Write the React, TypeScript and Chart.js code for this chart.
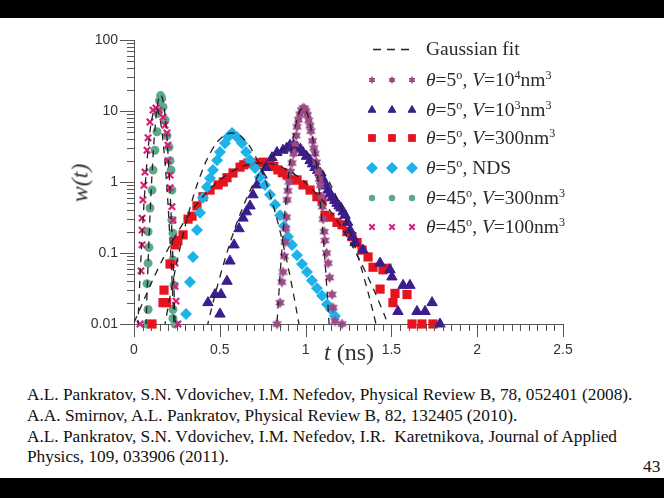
import React, { useEffect, useRef } from 'react';
import { Chart, registerables } from 'chart.js';
import { drawPoint } from 'chart.js/helpers';

Chart.register(...registerables);

// ---------- data (t in ns, w(t)) ----------
const starT = [0.833,0.851,0.862,0.868,0.876,0.880,0.885,0.888,0.892,0.897,0.903,0.912,0.921,0.930,0.938,0.945,0.950,0.958,0.967,0.976,0.985,0.994,1.002,1.010,1.018,1.025,1.031,1.040,1.048,1.055,1.063,1.072,1.080,1.086,1.092,1.098,1.102,1.108,1.113,1.122,1.131,1.140,1.154,1.160,1.171,1.212];
const starW = [0.01,0.02,0.039,0.054,0.09,0.143,0.22,0.32,0.56,0.75,1.0,1.4,1.85,2.5,3.3,4.5,6.0,7.5,9.0,10.3,11,10.8,10.0,8.8,7.4,6.2,5.2,3.8,3.0,2.5,1.9,1.4,1.1,0.9,0.62,0.45,0.3,0.2,0.15,0.1,0.072,0.045,0.026,0.017,0.011,0.01];

const triT = [0.431,0.472,0.501,0.507,0.542,0.559,0.583,0.612,0.635,0.655,0.676,0.693,0.717,0.746,0.769,0.804,0.833,0.868,0.890,0.909,0.930,0.950,0.970,0.985,1.005,1.026,1.040,1.055,1.070,1.084,1.097,1.107,1.120,1.131,1.143,1.154,1.170,1.183,1.195,1.206,1.218,1.230,1.245,1.259,1.275,1.288,1.334,1.434,1.492,1.503,1.538,1.568,1.608,1.649,1.696,1.737,1.783];
const triW = [0.02,0.026,0.0138,0.026,0.04,0.077,0.13,0.22,0.31,0.38,0.46,0.66,0.91,1.25,1.6,2.2,2.6,2.8,3.0,3.3,3.3,3.1,2.9,2.6,2.3,2.0,1.8,1.6,1.45,1.34,1.15,1.0,0.88,0.77,0.68,0.6,0.55,0.5,0.46,0.43,0.38,0.34,0.27,0.21,0.17,0.14,0.11,0.072,0.058,0.046,0.015,0.035,0.035,0.015,0.015,0.02,0.01];

const redT = [0.105,0.169,0.175,0.190,0.210,0.239,0.256,0.286,0.315,0.338,0.367,0.402,0.443,0.490,0.520,0.542,0.577,0.618,0.640,0.664,0.690,0.717,0.752,0.793,0.815,0.839,0.865,0.892,0.927,0.950,0.985,1.026,1.066,1.096,1.113,1.142,1.183,1.212,1.241,1.270,1.300,1.329,1.364,1.393,1.434,1.451,1.474,1.509,1.521,1.591,1.620,1.678,1.742];
const redW = [0.01,0.02,0.03,0.02,0.07,0.13,0.15,0.18,0.30,0.33,0.46,0.62,0.77,0.91,1.0,1.15,1.34,1.62,1.75,1.85,1.85,1.85,1.9,1.85,1.65,1.48,1.35,1.25,1.07,1.07,0.91,0.77,0.62,0.53,0.34,0.32,0.27,0.25,0.20,0.17,0.14,0.11,0.088,0.063,0.031,0.058,0.061,0.020,0.027,0.026,0.01,0.01,0.01];

const cyanT = [0.303,0.326,0.344,0.367,0.385,0.402,0.425,0.443,0.460,0.484,0.501,0.530,0.548,0.571,0.600,0.629,0.653,0.676,0.705,0.734,0.763,0.793,0.822,0.851,0.874,0.897,0.921,0.950,0.979,1.008,1.037,1.066,1.096,1.125,1.148,1.171];
const cyanW = [0.0138,0.039,0.088,0.21,0.37,0.60,0.85,1.13,1.47,2.03,2.64,3.5,4.3,4.9,4.3,3.5,2.64,2.03,1.58,1.18,0.91,0.66,0.48,0.34,0.24,0.17,0.13,0.093,0.070,0.054,0.041,0.032,0.025,0.019,0.016,0.013];

const greenT = [0.076,0.082,0.076,0.082,0.087,0.082,0.093,0.105,0.111,0.122,0.134,0.140,0.148,0.155,0.162,0.169,0.181,0.192,0.204,0.210,0.216,0.221,0.221,0.227,0.227,0.233,0.227,0.239,0.227];
const greenW = [0.01,0.016,0.037,0.072,0.12,0.2,0.43,0.77,1.47,2.8,5.1,9.3,14,16.5,15,11.4,7.5,4.5,3.1,2.0,1.47,0.77,0.29,0.19,0.08,0.035,0.016,0.01,0.012];

const pinkT = [0.035,0.041,0.047,0.047,0.047,0.052,0.058,0.064,0.076,0.082,0.093,0.111,0.128,0.146,0.169,0.181,0.192,0.198,0.198,0.210,0.210,0.221,0.227,0.233,0.239,0.239,0.245,0.256];
const pinkW = [0.01,0.056,0.13,0.21,0.31,0.56,0.9,1.38,2.8,4.2,7.0,10.3,11,10.3,8.2,6.3,4.9,3.3,2.0,1.25,0.83,0.45,0.29,0.15,0.072,0.034,0.021,0.01];

// Gaussian fits (dashed)
const fitStarT = [0.825,0.845,0.865,0.885,0.905,0.925,0.945,0.965,0.985,1.005,1.025,1.045,1.065,1.085,1.105,1.125,1.145];
const fitStarW = [0.0047,0.029,0.14,0.53,1.58,3.70,6.77,9.74,11,9.74,6.77,3.70,1.58,0.53,0.14,0.029,0.0047];
const fitTriT = [0.36,0.43,0.50,0.57,0.64,0.71,0.78,0.85,0.92,0.99,1.06,1.13,1.20,1.27,1.34,1.41,1.48];
const fitTriW = [0.0017,0.01,0.0455,0.165,0.475,1.08,1.94,2.76,3.1,2.76,1.94,1.08,0.475,0.165,0.0455,0.01,0.0017];
const fitRedT = [0.0,0.04,0.14,0.24,0.34,0.44,0.54,0.64,0.74,0.84,0.94,1.04,1.14,1.24,1.34,1.44,1.54];
const fitRedW = [0.0104,0.0174,0.060,0.171,0.403,0.785,1.26,1.68,1.85,1.68,1.26,0.785,0.403,0.171,0.060,0.0174,0.0042];
const fitCyanT = [0.151,0.211,0.271,0.331,0.391,0.451,0.511,0.571,0.631,0.691,0.751,0.811,0.871,0.931,0.991];
const fitCyanW = [0.0038,0.0252,0.126,0.471,1.31,2.73,4.23,4.9,4.23,2.73,1.31,0.471,0.126,0.0252,0.0038];
const fitGreenT = [0.065,0.08,0.095,0.11,0.125,0.14,0.155,0.17,0.185,0.2,0.215,0.23,0.245];
const fitGreenW = [0.004,0.0514,0.416,2.11,6.72,13.5,17,13.5,6.72,2.11,0.416,0.0514,0.004];
const fitPinkT = [0.008,0.028,0.048,0.068,0.088,0.108,0.128,0.148,0.168,0.188,0.208,0.228,0.248];
const fitPinkW = [0.0011,0.0188,0.186,1.11,3.97,8.52,11,8.52,3.97,1.11,0.186,0.0188,0.0011];

// ticks
const xTickValues = [0, 0.5, 1, 1.5, 2, 2.5];
const xTickLabels = ['0', '0.5', '1', '1.5', '2', '2.5'];
const yTickValues = [0.01, 0.1, 1, 10, 100];
const yTickLabels = ['0.01', '0.1', '1', '10', '100'];

// styles
const C_STAR = '#9c4b89';
const C_TRI = '#3b1d8d';
const C_RED = '#e5141f';
const C_CYAN = '#1db3e8';
const C_GREEN = '#5ea88b';
const C_PINK = '#d8217b';
const AXIS = '#555555';

const zip = (t: number[], w: number[]) => t.map((x, i) => ({ x, y: w[i] }));

function makeStar(r: number, color: string) {
  const s = Math.ceil(r * 2 + 2);
  const c = document.createElement('canvas');
  c.width = s;
  c.height = s;
  const ctx = c.getContext('2d')!;
  ctx.fillStyle = color;
  const cx = s / 2, cy = s / 2;
  for (const off of [-Math.PI / 2, Math.PI / 2]) {
    ctx.beginPath();
    for (let k = 0; k < 3; k++) {
      const a = off + (k * 2 * Math.PI) / 3;
      const px = cx + r * Math.cos(a), py = cy + r * Math.sin(a);
      if (k === 0) ctx.moveTo(px, py); else ctx.lineTo(px, py);
    }
    ctx.closePath();
    ctx.fill();
  }
  return c;
}

const LEG_X = [372, 392, 412];
const LEG_Y = [49, 80, 110, 138, 168, 198, 227];

const axisPlugin = {
  id: 'axisDecor',
  afterDraw(chart: any) {
    const { ctx, chartArea } = chart;
    const x = chart.scales.x, y = chart.scales.y;
    ctx.save();
    ctx.strokeStyle = AXIS;
    ctx.lineWidth = 1;
    // y ticks
    for (let d = 0.01; d < 50; d *= 10) {
      for (let k = 1; k <= 9; k++) {
        const v = d * k;
        const py = Math.round(y.getPixelForValue(v)) + 0.5;
        const len = k === 1 ? 14 : 7;
        ctx.beginPath();
        ctx.moveTo(chartArea.left, py);
        ctx.lineTo(chartArea.left - len, py);
        ctx.stroke();
      }
    }
    {
      const py = Math.round(y.getPixelForValue(100)) + 0.5;
      ctx.beginPath();
      ctx.moveTo(chartArea.left, py);
      ctx.lineTo(chartArea.left - 14, py);
      ctx.stroke();
    }
    // x ticks
    for (let i = 0; i <= 50; i++) {
      const v = i * 0.05;
      const px = Math.round(x.getPixelForValue(v)) + 0.5;
      const len = i % 10 === 0 ? 13 : 7;
      ctx.beginPath();
      ctx.moveTo(px, chartArea.bottom);
      ctx.lineTo(px, chartArea.bottom + len);
      ctx.stroke();
    }
    // legend markers
    ctx.strokeStyle = '#222';
    ctx.lineWidth = 1.3;
    ctx.setLineDash([8, 6]);
    ctx.beginPath();
    ctx.moveTo(373, LEG_Y[0] + 0.5);
    ctx.lineTo(412, LEG_Y[0] + 0.5);
    ctx.stroke();
    ctx.setLineDash([]);
    const legStar = makeStar(4, C_STAR);
    const specs: any[] = [
      { style: legStar, r: 4, color: C_STAR, bw: 0 },
      { style: 'triangle', r: 4.5, color: C_TRI, bw: 1 },
      { style: 'rect', r: 5.5, color: C_RED, bw: 0 },
      { style: 'rectRot', r: 6, color: C_CYAN, bw: 0 },
      { style: 'circle', r: 3.2, color: C_GREEN, bw: 0 },
      { style: 'crossRot', r: 3.8, color: C_PINK, bw: 2 },
    ];
    specs.forEach((s, i) => {
      LEG_X.forEach((lx) => {
        ctx.fillStyle = s.color;
        ctx.strokeStyle = s.color;
        ctx.lineWidth = s.bw;
        drawPoint(ctx, { pointStyle: s.style, radius: s.r, rotation: 0, borderWidth: s.bw }, lx, LEG_Y[i + 1]);
      });
    });
    ctx.restore();
  },
};

const fitDs = (t: number[], w: number[]) => ({
  type: 'line' as const,
  data: zip(t, w),
  borderColor: '#222222',
  borderWidth: 1.3,
  borderDash: [7, 6],
  pointRadius: 0,
  fill: false,
  tension: 0.4,
  order: 0,
});

export default function App() {
  const ref = useRef<HTMLCanvasElement>(null);
  useEffect(() => {
    const star = makeStar(5.5, C_STAR);
    const chart = new Chart(ref.current!, {
      type: 'scatter',
      data: {
        datasets: [
          fitDs(fitStarT, fitStarW),
          fitDs(fitTriT, fitTriW),
          fitDs(fitRedT, fitRedW),
          fitDs(fitCyanT, fitCyanW),
          fitDs(fitGreenT, fitGreenW),
          fitDs(fitPinkT, fitPinkW),
          { data: zip(starT, starW), pointStyle: star as any, pointRadius: 5.5, backgroundColor: C_STAR, borderColor: C_STAR, order: 1, clip: 10 } as any,
          { data: zip(cyanT, cyanW), pointStyle: 'rectRot', pointRadius: 6, backgroundColor: C_CYAN, borderColor: C_CYAN, borderWidth: 0, order: 2, clip: 10 },
          { data: zip(triT, triW), pointStyle: 'triangle', pointRadius: 6, backgroundColor: C_TRI, borderColor: C_TRI, borderWidth: 1, order: 3, clip: 10 },
          { data: zip(redT, redW), pointStyle: 'rect', pointRadius: 6.5, backgroundColor: C_RED, borderColor: C_RED, borderWidth: 0, order: 4, clip: 10 },
          { data: zip(pinkT, pinkW), pointStyle: 'crossRot', pointRadius: 4.5, backgroundColor: C_PINK, borderColor: C_PINK, borderWidth: 2.2, order: 5, clip: 10 },
          { data: zip(greenT, greenW), pointStyle: 'circle', pointRadius: 4.5, backgroundColor: C_GREEN, borderColor: C_GREEN, borderWidth: 0, order: 6, clip: 10 },
        ] as any,
      },
      options: {
        responsive: false,
        animation: false,
        layout: { padding: { top: 40, right: 101, left: 0, bottom: 0 } },
        plugins: { legend: { display: false }, tooltip: { enabled: false } },
        scales: {
          x: {
            type: 'linear',
            min: 0,
            max: 2.5,
            afterFit: (s: any) => { s.height = 46; },
            afterBuildTicks: (s: any) => { s.ticks = xTickValues.map((value) => ({ value })); },
            ticks: {
              autoSkip: false,
              maxRotation: 0,
              padding: 18,
              color: '#333',
              font: { family: '"Liberation Sans", Arial, sans-serif', size: 14 },
              callback: (_v: any, i: number) => xTickLabels[i],
            },
            grid: { display: false, drawTicks: false },
            border: { display: true, color: AXIS, width: 1 },
          },
          y: {
            type: 'logarithmic',
            min: 0.01,
            max: 100,
            afterFit: (s: any) => { s.width = 134; },
            afterBuildTicks: (s: any) => { s.ticks = yTickValues.map((value) => ({ value })); },
            ticks: {
              autoSkip: false,
              padding: 16,
              color: '#333',
              font: { family: '"Liberation Sans", Arial, sans-serif', size: 14 },
              callback: (_v: any, i: number) => yTickLabels[i],
            },
            grid: { display: false, drawTicks: false },
            border: { display: true, color: AXIS, width: 1 },
          },
        },
      } as any,
      plugins: [axisPlugin],
    });
    return () => chart.destroy();
  }, []);

  const serif = '"Liberation Serif", "Times New Roman", serif';
  const sup: React.CSSProperties = { fontSize: '0.62em', verticalAlign: '0.55em', lineHeight: 0 };
  const legRow = (i: number, content: React.ReactNode) => (
    <div key={i} style={{ position: 'absolute', left: 426, top: LEG_Y[i] - 12, height: 24, lineHeight: '24px', fontSize: 19.5, color: '#2a2a2a', whiteSpace: 'nowrap' }}>
      {content}
    </div>
  );

  return (
    <div style={{ position: 'absolute', left: 0, top: 0, width: 664, height: 498, background: '#fff', overflow: 'hidden', fontFamily: serif }}>
      <div style={{ position: 'absolute', left: 0, top: 0, width: 664, height: 18, background: '#000' }} />
      <canvas ref={ref} width={664} height={370} style={{ position: 'absolute', left: 0, top: 0, width: 664, height: 370 }} />
      {legRow(0, <span>Gaussian fit</span>)}
      {legRow(1, <span><i>θ</i>=5<sup style={sup}>o</sup>, <i>V</i>=10<sup style={sup}>4</sup>nm<sup style={sup}>3</sup></span>)}
      {legRow(2, <span><i>θ</i>=5<sup style={sup}>o</sup>, <i>V</i>=10<sup style={sup}>3</sup>nm<sup style={sup}>3</sup></span>)}
      {legRow(3, <span><i>θ</i>=5<sup style={sup}>o</sup>, <i>V</i>=300nm<sup style={sup}>3</sup></span>)}
      {legRow(4, <span><i>θ</i>=5<sup style={sup}>o</sup>, NDS</span>)}
      {legRow(5, <span><i>θ</i>=45<sup style={sup}>o</sup>, <i>V</i>=300nm<sup style={sup}>3</sup></span>)}
      {legRow(6, <span><i>θ</i>=45<sup style={sup}>o</sup>, <i>V</i>=100nm<sup style={sup}>3</sup></span>)}
      <div style={{ position: 'absolute', left: 80, top: 183, transform: 'translate(-50%, -50%) rotate(-90deg)', fontSize: 24, fontStyle: 'italic', color: '#333', whiteSpace: 'nowrap' }}>w(t)</div>
      <div style={{ position: 'absolute', left: 349, top: 352, transform: 'translate(-50%, -50%)', fontSize: 24, color: '#333', whiteSpace: 'nowrap' }}><i>t</i> (ns)</div>
      <div style={{ position: 'absolute', left: 27, top: 385, fontSize: 17.3, lineHeight: '20.8px', color: '#111', whiteSpace: 'pre' }}>
        <div>A.L. Pankratov, S.N. Vdovichev, I.M. Nefedov, Physical Review B, 78, 052401 (2008).</div>
        <div>A.A. Smirnov, A.L. Pankratov, Physical Review B, 82, 132405 (2010).</div>
        <div>A.L. Pankratov, S.N. Vdovichev, I.M. Nefedov, I.R.  Karetnikova, Journal of Applied</div>
        <div>Physics, 109, 033906 (2011).</div>
      </div>
      <div style={{ position: 'absolute', left: 643, top: 457, fontSize: 17.3, color: '#111' }}>43</div>
      <div style={{ position: 'absolute', left: 0, top: 478, width: 664, height: 20, background: '#000' }} />
    </div>
  );
}
